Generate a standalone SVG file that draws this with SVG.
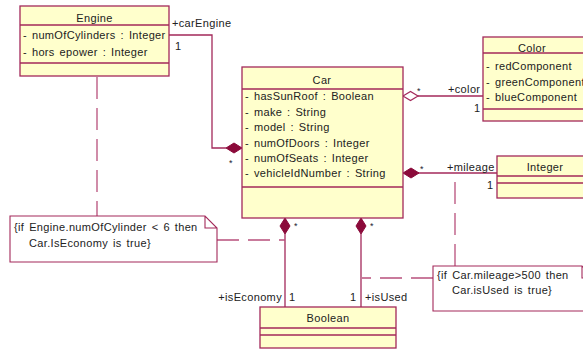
<svg xmlns="http://www.w3.org/2000/svg" width="583" height="349" viewBox="0 0 583 349">
<defs>
<style>
.box{fill:#FFFFCC;stroke:#A3295A;stroke-width:1.3}
.sep{stroke:#A3295A;stroke-width:1.3}
.line{fill:none;stroke:#A3295A;stroke-width:1.3}
.dash{fill:none;stroke:#B8507C;stroke-width:1.3;stroke-dasharray:22 9}
.note{fill:#FFFFFF;stroke:#A3295A;stroke-width:1.1}
.fd{fill:#8B0A3A;stroke:#8B0A3A;stroke-width:1}
.hd{fill:#FFFFFF;stroke:#A3295A;stroke-width:1.2}
text{font-family:"Liberation Sans",Arial,sans-serif;font-size:11px;fill:#222;letter-spacing:0.35px;word-spacing:1.5px}
.c{text-anchor:middle}
.e{text-anchor:end}
.star{font-size:9px;fill:#223}
</style>
</defs>
<rect width="583" height="349" fill="#FFFFFF"/>
<g id="connectors">
<polyline class="line" points="169,35 212,35 212,148 226,148"/>
<polygon class="fd" points="226,148 234,143 242,148 234,153"/>
<line class="line" x1="418" y1="96" x2="483" y2="96"/>
<polygon class="hd" points="403,96 410.5,91.5 418,96 410.5,100.5"/>
<line class="line" x1="418" y1="173" x2="497" y2="173"/>
<polygon class="fd" points="403,173 411,168 419,173 411,178"/>
<line class="line" x1="285" y1="234" x2="285" y2="307"/>
<polygon class="fd" points="285,218 290,226 285,234 280,226"/>
<line class="line" x1="361" y1="234" x2="361" y2="307"/>
<polygon class="fd" points="361,218 366,226 361,234 356,226"/>
<line class="dash" x1="97" y1="77" x2="97" y2="216"/>
<line class="dash" x1="217" y1="240" x2="285" y2="240"/>
<line class="dash" x1="455" y1="182" x2="455" y2="266"/>
<line class="dash" x1="433" y1="278" x2="362" y2="278"/>
<text x="172" y="27">+carEngine</text>
<text x="175" y="50">1</text>
<text class="star" x="229" y="166">*</text>
<text x="448" y="93">+color</text>
<text x="474" y="112">1</text>
<text class="star" x="417" y="94">*</text>
<text x="447" y="171">+mileage</text>
<text x="487" y="189">1</text>
<text class="star" x="420" y="172">*</text>
<text class="e" x="282" y="301">+isEconomy</text>
<text x="289" y="301">1</text>
<text class="star" x="294" y="229">*</text>
<text x="350" y="301">1</text>
<text x="365" y="301">+isUsed</text>
<text class="star" x="370" y="229">*</text>
</g>
<g id="engine">
<rect class="box" x="20" y="6" width="149" height="70"/>
<line class="sep" x1="20" y1="25" x2="169" y2="25"/>
<line class="sep" x1="20" y1="63" x2="169" y2="63"/>
<text class="c" x="94.5" y="22">Engine</text>
<text x="23" y="39">- numOfCylinders : Integer</text>
<text x="23" y="56">- hors epower : Integer</text>
</g>
<g id="car">
<rect class="box" x="242" y="67" width="161" height="151"/>
<line class="sep" x1="242" y1="89" x2="403" y2="89"/>
<line class="sep" x1="242" y1="187" x2="403" y2="187"/>
<text class="c" x="322" y="84">Car</text>
<text x="245" y="100">- hasSunRoof : Boolean</text>
<text x="245" y="116">- make : String</text>
<text x="245" y="131">- model : String</text>
<text x="245" y="147">- numOfDoors : Integer</text>
<text x="245" y="162">- numOfSeats : Integer</text>
<text x="245" y="177">- vehicleIdNumber : String</text>
</g>
<g id="color">
<rect class="box" x="483" y="37" width="110" height="84"/>
<line class="sep" x1="483" y1="53" x2="593" y2="53"/>
<line class="sep" x1="483" y1="109" x2="593" y2="109"/>
<text class="c" x="532" y="52">Color</text>
<text x="486" y="70">- redComponent</text>
<text x="486" y="86">- greenComponent</text>
<text x="486" y="101">- blueComponent</text>
</g>
<g id="integer">
<rect class="box" x="497" y="156" width="96" height="42"/>
<line class="sep" x1="497" y1="176" x2="593" y2="176"/>
<line class="sep" x1="497" y1="183" x2="593" y2="183"/>
<text class="c" x="545" y="171">Integer</text>
</g>
<g id="boolean">
<rect class="box" x="260" y="307" width="136" height="41"/>
<line class="sep" x1="260" y1="328" x2="396" y2="328"/>
<line class="sep" x1="260" y1="335" x2="396" y2="335"/>
<text class="c" x="328" y="322">Boolean</text>
</g>
<g id="note-engine">
<path class="note" d="M10,216 H205 L217,228 V262 H10 Z M205,216 V228 H217"/>
<text x="14" y="231">{if Engine.numOfCylinder &lt; 6 then</text>
<text x="29" y="247">Car.IsEconomy is true}</text>
</g>
<g id="note-mileage">
<path class="note" d="M433,266 H582 L594,278 V311 H433 Z M582,266 V278 H594"/>
<text x="437" y="279">{if Car.mileage&gt;500 then</text>
<text x="452" y="294">Car.isUsed is true}</text>
</g>
</svg>
